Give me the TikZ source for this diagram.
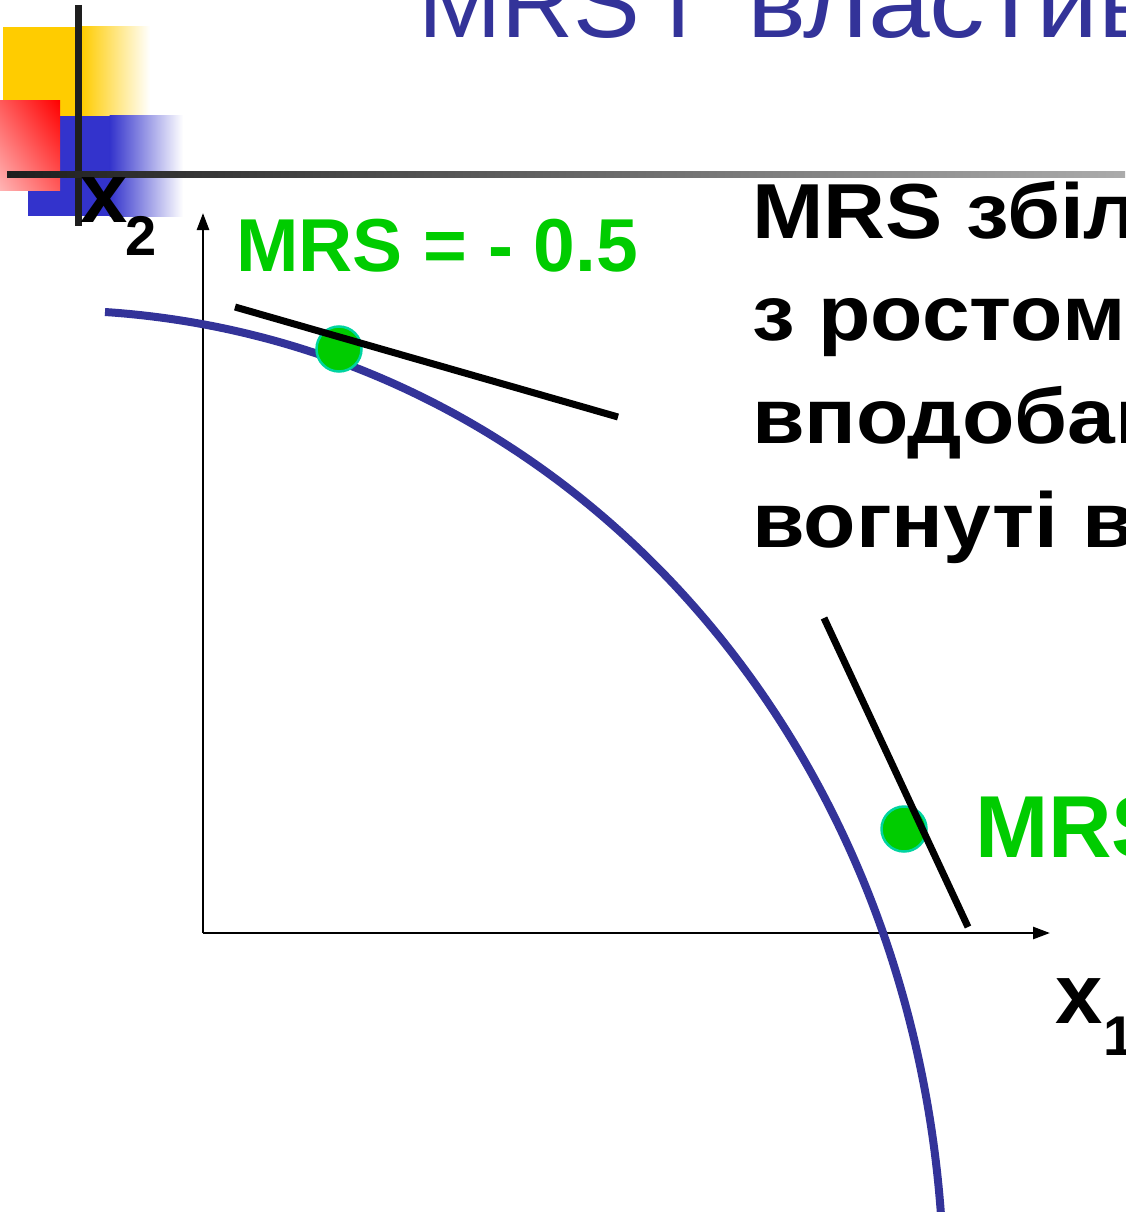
\documentclass[tikz,border=0pt]{standalone}
\usepackage{fontspec}
\usepackage{graphicx}
\setmainfont{Liberation Sans}
\usetikzlibrary{arrows.meta,shadings}
\definecolor{titleblue}{HTML}{333399}
\definecolor{curveblue}{HTML}{333399}
\definecolor{mrsgreen}{HTML}{00CC00}
\definecolor{dotrim}{HTML}{00D4A0}
\definecolor{decoyellow}{HTML}{FFCC00}
\definecolor{decoblue}{HTML}{3333CC}
\definecolor{decored}{HTML}{FF0000}
\definecolor{decopink}{HTML}{FFB4B4}
\definecolor{decomid}{HTML}{FF5A5A}
\definecolor{barblack}{HTML}{1E1E1E}
\definecolor{bargray}{HTML}{ABABAB}
\newcommand{\widetxt}[1]{\scalebox{1.1}[1]{#1}}
\tikzset{
  lbl/.style={anchor=base west, inner sep=0pt, outer sep=0pt},
  bigtext/.style={lbl, font=\fontsize{78}{80}\selectfont\bfseries, text=black},
  greenlbl/.style={lbl, text=mrsgreen},
  titletext/.style={lbl, font=\fontsize{100}{100}\selectfont, text=titleblue},
  axisline/.style={line width=2.6pt, -{Triangle[length=17pt,width=12pt]}},
  tangentline/.style={line width=7pt, black},
  mrsdot/.style={circle, fill=mrsgreen, draw=dotrim, line width=2.5pt, minimum size=45pt, inner sep=0pt},
  curve/.style={line width=8pt, curveblue}
}
\begin{document}
\begin{tikzpicture}[x=1pt, y=-1pt]
\useasboundingbox (0,0) rectangle (1125,1212);
\clip (0,0) rectangle (1125,1212);
\fill[white] (0,0) rectangle (1125,1212);
% decoration
\fill[decoyellow] (3,27) rectangle (82,116);
\shade[left color=decoyellow, right color=white] (81.5,27) rectangle (150,116);
\fill[decoblue] (28,116) rectangle (110,216);
\shade[left color=decoblue, right color=white] (109.5,116) rectangle (183,216);
\shade[upper left=decomid, upper right=decored, lower left=decopink, lower right=decomid] (0,101) rectangle (60,190);
\draw[line width=7pt, barblack] (78,5) -- (78,226);
\shade[left color=barblack, right color=bargray] (7,171) rectangle (1125,177.5);
% title
\node[titletext] (title1) at (418,38) {MRS і};
\node[titletext] (title2) at (747,38) {\scalebox{1.11}[1]{властивості}};
% axes
\coordinate (O) at (203,933);
\coordinate (ytip) at (203,213);
\coordinate (xtip) at (1050,933);
\draw[axisline] (O) -- (ytip);
\draw[axisline] (O) -- (xtip);
% axis labels
\node[lbl, font=\fontsize{85}{85}\selectfont\bfseries] (x2) at (80,222) {x};
\node[lbl, font=\fontsize{56}{56}\selectfont\bfseries] (x2sub) at (125,255) {2};
\node[lbl, font=\fontsize{85}{85}\selectfont\bfseries] (x1) at (1055,1023) {x};
\node[lbl, font=\fontsize{56}{56}\selectfont\bfseries] (x1sub) at (1103,1055) {1};
% curve
\draw[curve] (105,312) .. controls (555,342) and (905,720) .. (941,1215);
% dots and tangents
\node[mrsdot] (d1) at (339,349) {};
\node[mrsdot] (d2) at (904,829) {};
\coordinate (t1a) at (235,307);
\coordinate (t1b) at (618,417);
\coordinate (t2a) at (824,618);
\coordinate (t2b) at (968,927);
\draw[tangentline] (t1a) -- (t1b);
\draw[tangentline] (t2a) -- (t2b);
% green labels
\node[greenlbl, font=\fontsize{75}{75}\selectfont\bfseries] (m1) at (236,271) {MRS = - 0.5};
\node[greenlbl, font=\fontsize{88}{88}\selectfont\bfseries] (m2) at (975,857) {MRS};
% right text
\node[bigtext] (l1) at (752,238) {\widetxt{MRS збіл}};
\node[bigtext] (l2) at (752,340) {\widetxt{з ростом}};
\node[bigtext] (l3) at (752,443) {\widetxt{вподобан}};
\node[bigtext] (l4) at (752,547) {\widetxt{вогнуті в}};
\end{tikzpicture}
\end{document}
